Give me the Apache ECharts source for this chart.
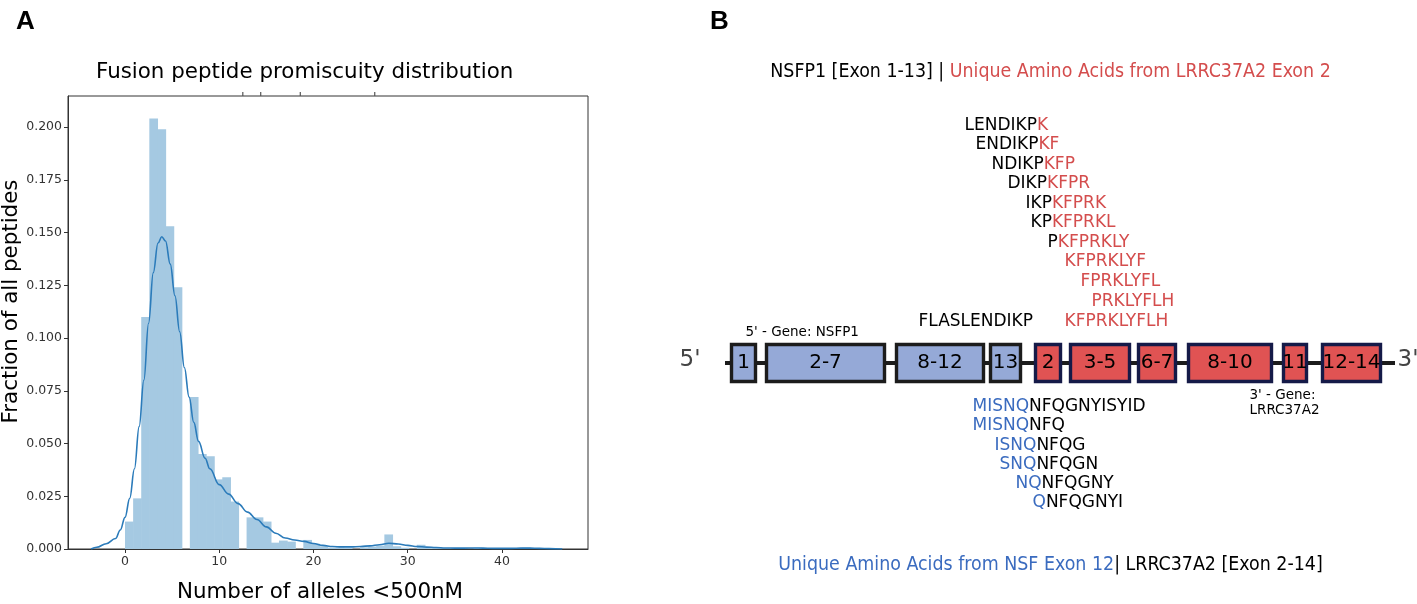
<!DOCTYPE html>
<html>
<head>
<meta charset="utf-8">
<script src="https://cdn.jsdelivr.net/npm/echarts@6/dist/echarts.min.js"></script>
<style>
  html, body { margin: 0; padding: 0; background: #fff; }
  #chart { width: 1417px; height: 604px; }
</style>
</head>
<body>
<div id="chart"></div>
<script>
// ---- panel A: promiscuity histogram (density per bin) + kde ----
const binWidth = 0.86;
const binDensity = [
  0.013, 0.024, 0.110, 0.204, 0.199, 0.153, 0.124, 0, 0.072, 0.045,
  0.044, 0.033, 0.034, 0.0225, 0, 0.015, 0.015, 0.013, 0.003, 0.004,
  0.0035, 0, 0.0043, 0.0025, 0.0013, 0.0006, 0.0008, 0.0006, 0, 0.0008,
  0.0012, 0.0016, 0.0069, 0.0013, 0.0006, 0, 0.002, 0.0008, 0.0006, 0.0004,
  0.0004, 0.0004, 0, 0.0006, 0.0002, 0.0002, 0.0002, 0.0002, 0.0004, 0.0006
];
const kdeX = [-3.6, -3, -2, -1, -0.5, 0, 0.5, 1, 1.5, 2, 2.5, 3, 3.5, 3.9, 4.3, 4.8, 5.3, 5.8,
  6.3, 6.8, 7.3, 7.8, 8.5, 9, 10, 11, 12, 13, 14, 15, 16, 17, 18, 19, 20, 21, 22, 23, 24, 25,
  26, 27, 28, 29, 30, 31, 32, 33, 34, 35, 36, 37, 38, 39, 40, 41, 42, 43, 44, 45, 46.4];
const kdeY = [0, 0.0008, 0.0025, 0.005, 0.009, 0.015, 0.024, 0.038, 0.058, 0.08, 0.107, 0.131,
  0.145, 0.148, 0.146, 0.135, 0.12, 0.103, 0.086, 0.072, 0.06, 0.051, 0.043, 0.038, 0.0305,
  0.026, 0.0215, 0.0175, 0.014, 0.0105, 0.0075, 0.0052, 0.0043, 0.0036, 0.0026, 0.0017, 0.0012,
  0.001, 0.001, 0.0012, 0.0015, 0.002, 0.0027, 0.0024, 0.0017, 0.0012, 0.0009, 0.0007, 0.0005,
  0.0004, 0.0004, 0.0005, 0.0004, 0.0003, 0.0003, 0.0003, 0.0004, 0.0004, 0.0003, 0.0002, 0];
const xTicks = [0, 10, 20, 30, 40];
const yTicks = [0, 0.025, 0.05, 0.075, 0.1, 0.125, 0.15, 0.175, 0.2];
const topMarks = [12.5, 14.4, 18.6, 26.5];
const xMin = -6.05, xMax = 49.13, yMax = 0.2147;

// ---- panel B: fusion map (units along the drawing) ----
const exonLabels = ['1', '2-7', '8-12', '13', '2', '3-5', '6-7', '8-10', '11', '12-14'];
const exonStart = [50, 85, 215, 309, 354, 389, 457, 507, 602, 641];
const exonEnd = [77, 206, 305, 342, 382, 451, 497, 593, 628, 702];
const exonGene = [0, 0, 0, 0, 1, 1, 1, 1, 1, 1]; // 0 = NSFP1, 1 = LRRC37A2
const trackStart = 45, trackEnd = 715, trackY = 363, exonHalf = 20;

const upperBlack = ['LENDIKP', 'ENDIKP', 'NDIKP', 'DIKP', 'IKP', 'KP', 'P', '', '', '', ''];
const upperRed = ['K', 'KF', 'KFP', 'KFPR', 'KFPRK', 'KFPRKL', 'KFPRKLY', 'KFPRKLYF', 'FPRKLYFL', 'PRKLYFLH', 'KFPRKLYFLH'];
const upperX = [285, 296, 312, 328, 346, 351, 368, 385, 401, 412, 385];
const upperY = [126, 145, 165, 184, 204, 223, 243, 262, 282, 302, 322];

const lowerBlue = ['MISNQ', 'MISNQ', 'ISNQ', 'SNQ', 'NQ', 'Q'];
const lowerBlack = ['NFQGNYISYID', 'NFQ', 'NFQG', 'NFQGN', 'NFQGNY', 'NFQGNYI'];
const lowerX = [293, 293, 315, 320, 336, 353];
const lowerY = [407, 426, 446, 465, 484, 503];

const RED = '#d44d4d', BLUE = '#3a6bbf', INK = '#000';
const FONT = '"DejaVu Sans", sans-serif';
const NARROW = '"DejaVu Sans Condensed", "Liberation Sans Narrow", "DejaVu Sans", sans-serif';

function seg(style, s) { return s ? '{' + style + '|' + s + '}' : ''; }
function textItem(x, y, fmt, align) {
  return { value: [x, y], label: { formatter: fmt, align: align || 'left' } };
}

const labelData = [];
upperRed.forEach((r, i) => labelData.push(textItem(upperX[i], upperY[i], seg('pk', upperBlack[i]) + seg('pr', r))));
lowerBlue.forEach((b, i) => labelData.push(textItem(lowerX[i], lowerY[i], seg('pb', b) + seg('pk', lowerBlack[i]))));
labelData.push(textItem(239, 322, seg('pk', 'FLASLENDIKP')));
labelData.push(textItem(66, 333, seg('g', "5' - Gene: NSFP1")));
labelData.push(textItem(570, 396, seg('g', "3' - Gene:")));
labelData.push(textItem(570, 411, seg('g', 'LRRC37A2')));
labelData.push(textItem(0, 361, seg('e', "5'")));
labelData.push(textItem(718, 361, seg('e', "3'")));
labelData.push(textItem(371, 72, seg('tk', 'NSFP1 [Exon 1-13] | ') + seg('tr', 'Unique Amino Acids from LRRC37A2 Exon 2'), 'center'));
labelData.push(textItem(371, 565, seg('tb', 'Unique Amino Acids from NSF Exon 12') + seg('tk', '| LRRC37A2 [Exon 2-14]'), 'center'));

const chart = echarts.init(document.getElementById('chart'), null, { renderer: 'canvas' });

chart.setOption({
  animation: false,
  backgroundColor: '#fff',
  textStyle: { fontFamily: FONT },
  title: [
    { text: 'A', left: 16, top: 9, padding: 0, textStyle: { fontFamily: '"Liberation Sans", Arial, sans-serif', fontWeight: 'bold', fontSize: 26, color: '#000' } },
    { text: 'B', left: 710, top: 9, padding: 0, textStyle: { fontFamily: '"Liberation Sans", Arial, sans-serif', fontWeight: 'bold', fontSize: 26, color: '#000' } },
    { text: 'Fusion peptide promiscuity distribution', left: 96, top: 62, padding: 0, textStyle: { fontFamily: FONT, fontWeight: 'normal', fontSize: 21.4, color: INK } }
  ],
  grid: [
    { left: 68, top: 96, width: 520, height: 453, outerBoundsMode: 'none', containLabel: false,
      show: true, borderColor: '#333', borderWidth: 1, backgroundColor: 'transparent' },
    { left: 680, top: 0, width: 737, height: 604, outerBoundsMode: 'none', containLabel: false }
  ],
  xAxis: [
    {
      type: 'value', gridIndex: 0, min: xMin, max: xMax,
      name: 'Number of alleles <500nM', nameLocation: 'middle', nameGap: 33,
      nameTextStyle: { fontSize: 21.4, color: INK, fontFamily: FONT, padding: [0, 16, 0, 0] },
      axisLine: { show: true, onZero: false, lineStyle: { color: '#333', width: 1 } },
      axisTick: { show: true, length: 4, customValues: xTicks, lineStyle: { color: '#333' } },
      axisLabel: { customValues: xTicks, margin: 6, fontSize: 12.5, color: '#333', fontFamily: FONT },
      splitLine: { show: false }
    },
    { type: 'value', gridIndex: 1, min: 0, max: 737, show: false }
  ],
  yAxis: [
    {
      type: 'value', gridIndex: 0, min: 0, max: yMax,
      name: 'Fraction of all peptides', nameLocation: 'middle', nameGap: 46,
      nameTextStyle: { fontSize: 21.4, color: INK, fontFamily: FONT, padding: [0, 0, 0, 42] },
      axisLine: { show: true, onZero: false, lineStyle: { color: '#333', width: 1 } },
      axisTick: { show: true, length: 4, customValues: yTicks, lineStyle: { color: '#333' } },
      axisLabel: { customValues: yTicks, margin: 6, fontSize: 12.5, color: '#333', fontFamily: FONT, formatter: v => v.toFixed(3) },
      splitLine: { show: false }
    },
    { type: 'value', gridIndex: 1, min: 0, max: 604, inverse: true, show: false }
  ],
  series: [
    {
      name: 'histogram', type: 'custom', xAxisIndex: 0, yAxisIndex: 0, z: 2,
      data: binDensity.map((d, i) => [i * binWidth, (i + 1) * binWidth, d]).filter(b => b[2] > 0),
      renderItem: (params, api) => {
        const p0 = api.coord([api.value(0), api.value(2)]);
        const p1 = api.coord([api.value(1), 0]);
        return {
          type: 'rect',
          shape: { x: p0[0], y: p0[1], width: p1[0] - p0[0] + 0.6, height: p1[1] - p0[1] },
          style: { fill: '#a5c9e2' }
        };
      }
    },
    {
      name: 'kde', type: 'line', xAxisIndex: 0, yAxisIndex: 0, z: 3,
      data: kdeX.map((x, i) => [x, kdeY[i]]),
      smooth: 0.4, smoothMonotone: 'x', symbol: 'none',
      lineStyle: { color: '#2b7bba', width: 1.6 }
    },
    {
      name: 'top marks', type: 'scatter', xAxisIndex: 0, yAxisIndex: 0, clip: false, z: 4,
      data: topMarks.map(x => [x, yMax]),
      symbol: 'rect', symbolSize: [1.2, 4], symbolOffset: [0, -2],
      itemStyle: { color: '#555', opacity: 1 }
    },
    {
      name: 'backbone', type: 'line', xAxisIndex: 1, yAxisIndex: 1, z: 1,
      data: [[trackStart, trackY], [trackEnd, trackY]],
      symbol: 'none', lineStyle: { color: '#1c1c1c', width: 4 }
    },
    {
      name: 'exons', type: 'custom', xAxisIndex: 1, yAxisIndex: 1, z: 2,
      data: exonStart.map((s, i) => [s, exonEnd[i], exonGene[i]]),
      renderItem: (params, api) => {
        const g = api.value(2);
        const p0 = api.coord([api.value(0), trackY - exonHalf]);
        const p1 = api.coord([api.value(1), trackY + exonHalf]);
        return {
          type: 'rect',
          shape: { x: p0[0] + 1.5, y: p0[1] + 1.5, width: p1[0] - p0[0] - 3, height: p1[1] - p0[1] - 3 },
          style: { fill: g ? '#e05353' : '#95a9d7', stroke: g ? '#151a48' : '#1c1c1c', lineWidth: 3.4 },
          textContent: { style: { text: exonLabels[params.dataIndex], fill: '#000', font: '20px "DejaVu Sans"' } },
          textConfig: { position: 'inside' }
        };
      }
    },
    {
      name: 'labels', type: 'scatter', xAxisIndex: 1, yAxisIndex: 1, z: 5, clip: false,
      symbolSize: 1, itemStyle: { color: 'rgba(0,0,0,0)', opacity: 1 },
      data: labelData,
      label: {
        show: true, position: [0, 0], verticalAlign: 'middle', opacity: 1,
        rich: {
          pk: { fontFamily: FONT, fontSize: 17, color: INK },
          pr: { fontFamily: FONT, fontSize: 17, color: RED },
          pb: { fontFamily: FONT, fontSize: 17, color: BLUE },
          tk: { fontFamily: NARROW, fontSize: 19.4, color: INK },
          tr: { fontFamily: NARROW, fontSize: 19.4, color: RED },
          tb: { fontFamily: NARROW, fontSize: 19.4, color: BLUE },
          g: { fontFamily: FONT, fontSize: 13.5, color: INK },
          e: { fontFamily: FONT, fontSize: 23, color: '#444' }
        }
      }
    }
  ]
});
</script>
</body>
</html>
